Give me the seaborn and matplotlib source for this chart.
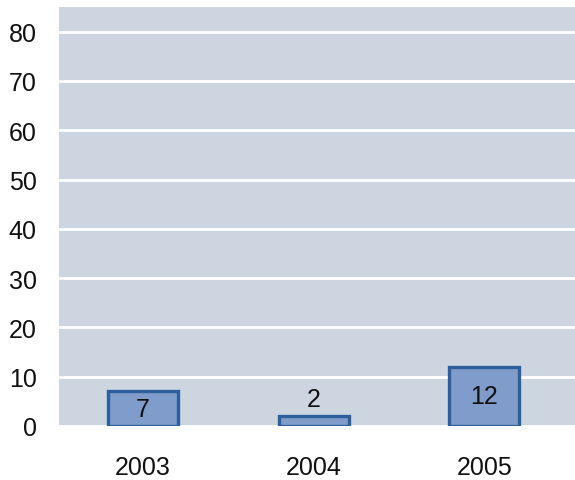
import matplotlib
matplotlib.use("Agg")
import matplotlib.pyplot as plt
import seaborn as sns
import pandas as pd

years = ["2003", "2004", "2005"]
values = [7, 2, 12]
y_ticks = [0, 10, 20, 30, 40, 50, 60, 70, 80]

sns.set_style("darkgrid", {"axes.facecolor": "#cdd5e1", "grid.color": "white"})
plt.rcParams['font.family'] = ['Liberation Sans', 'DejaVu Sans']

df = pd.DataFrame({"year": years, "value": values})

fig = plt.figure(figsize=(5.75, 4.81), dpi=100)
ax = fig.add_axes([59 / 575, 1 - 427 / 481, (575 - 59) / 575, (427 - 8) / 481])

sns.barplot(data=df, x="year", y="value", ax=ax, color="#7f9ccb",
            edgecolor="#2d5f9c", linewidth=2.4, width=0.41, saturation=1)

ax.set_ylim(0, 85)
ax.set_xlim(-0.49, 2.53)
ax.set_yticks(y_ticks)
ax.grid(axis="y", color="white", linewidth=2)
ax.grid(axis="x", visible=False)
for s in ax.spines.values():
    s.set_visible(False)
ax.set_xlabel("")
ax.set_ylabel("")
ax.tick_params(axis="y", length=0, pad=16, labelsize=18, labelcolor="#111111")
ax.tick_params(axis="x", length=0, pad=21, labelsize=18, labelcolor="#111111")

# value labels: inside the bar if it fits, else just above
for i, v in enumerate(values):
    y = v / 2 if v >= 5 else v + 3.5
    ax.text(i, y, str(v), ha="center", va="center", fontsize=18, color="#111111")

fig.savefig("out.png", dpi=100)
